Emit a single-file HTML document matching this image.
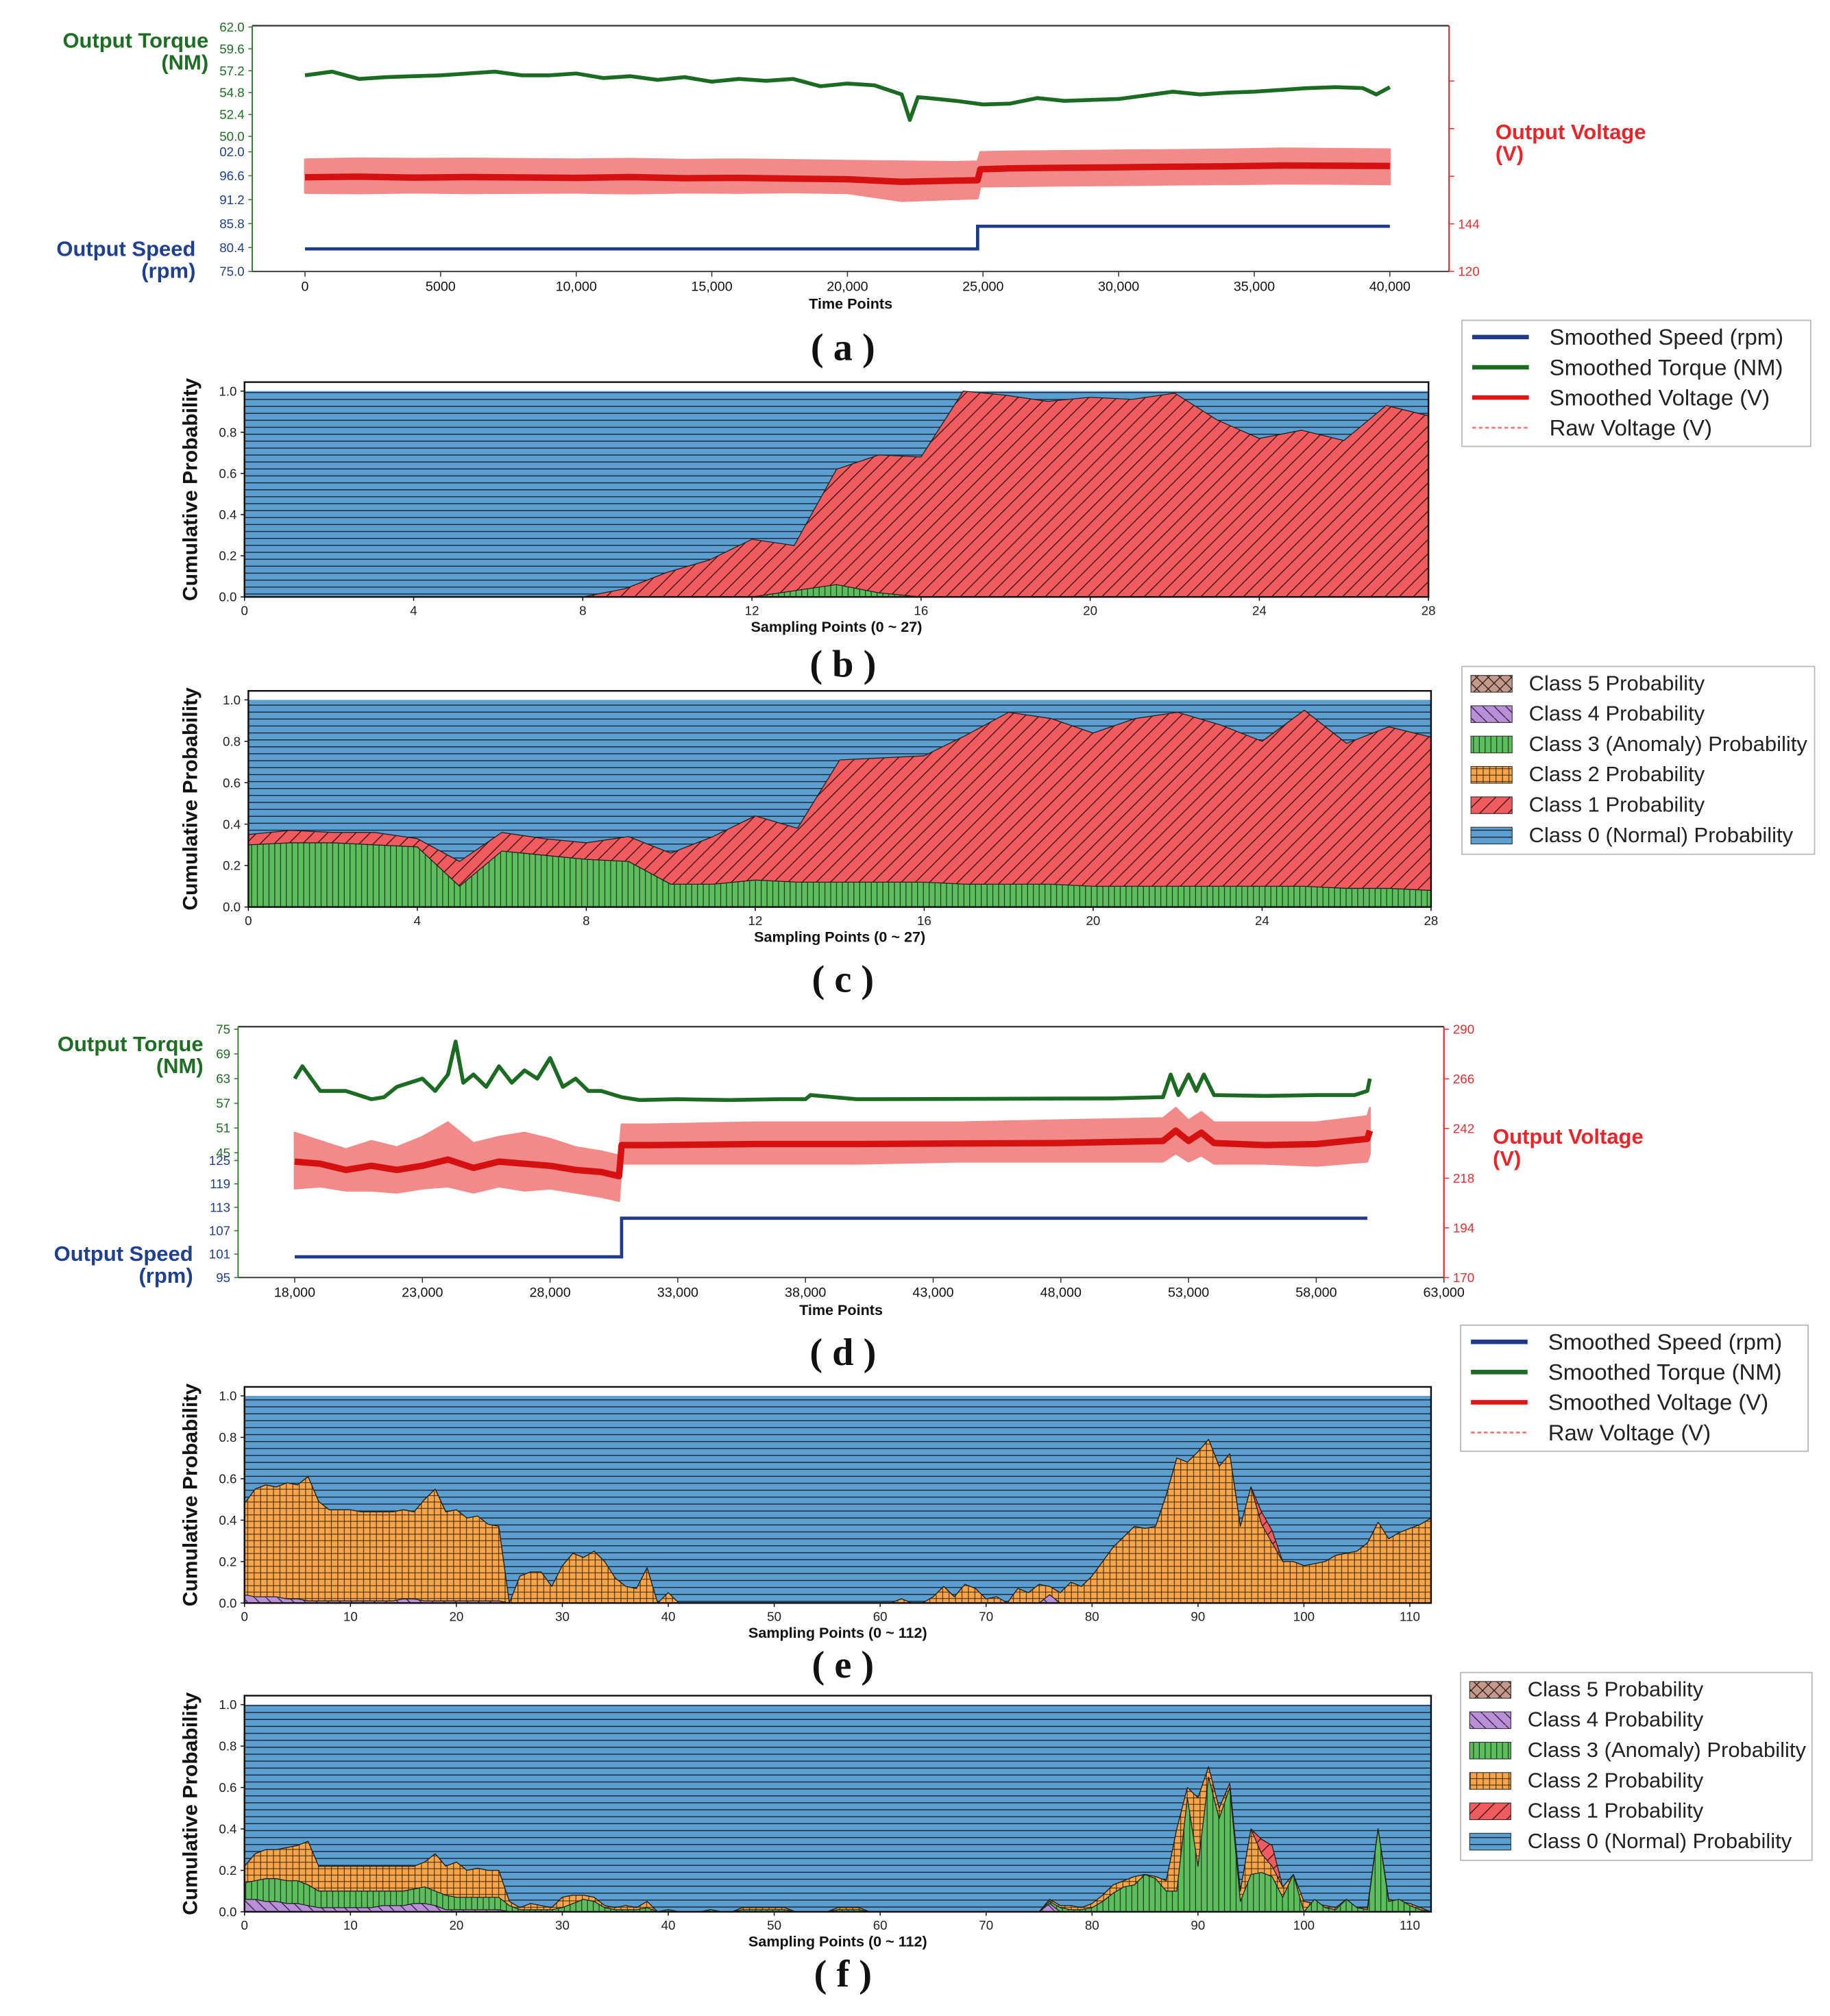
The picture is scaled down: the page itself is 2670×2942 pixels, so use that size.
<!DOCTYPE html>
<html><head><meta charset="utf-8">
<style>
html,body{margin:0;padding:0;background:#fff;}
svg{display:block;font-family:"Liberation Sans",sans-serif;}
</style></head>
<body>
<svg id="fig" width="2670" height="2942" viewBox="0 0 1422 1567" preserveAspectRatio="none" xmlns="http://www.w3.org/2000/svg">
<defs>
<pattern id="pBlue" patternUnits="userSpaceOnUse" width="10" height="5.4"><rect width="10" height="5.4" fill="#5b9fd0"/><line x1="0" y1="2.7" x2="10" y2="2.7" stroke="#1b2b3b" stroke-width="0.8"/></pattern>
<pattern id="pRed" patternUnits="userSpaceOnUse" width="11" height="11"><rect width="11" height="11" fill="#ef5b5e"/><path d="M-1,12 L12,-1 M-1,1 L1,-1 M10,12 L12,10" stroke="#3a1010" stroke-width="0.7"/></pattern>
<pattern id="pGreen" patternUnits="userSpaceOnUse" width="4.5" height="10"><rect width="4.5" height="10" fill="#5cbd5c"/><line x1="2" y1="0" x2="2" y2="10" stroke="#153015" stroke-width="0.6"/></pattern>
<pattern id="pOrange" patternUnits="userSpaceOnUse" width="5" height="5"><rect width="5" height="5" fill="#f6a54a"/><path d="M2.5,0 V5 M0,2.5 H5" stroke="#3b2500" stroke-width="0.55"/></pattern>
<pattern id="pPurple" patternUnits="userSpaceOnUse" width="9" height="9"><rect width="9" height="9" fill="#b98fd8"/><path d="M-1,-1 L10,10" stroke="#2a1a3a" stroke-width="0.7"/></pattern>
<pattern id="pBrown" patternUnits="userSpaceOnUse" width="9" height="9"><rect width="9" height="9" fill="#c49a8a"/><path d="M0,0 L9,9 M9,0 L0,9" stroke="#2a1a1a" stroke-width="0.7"/></pattern>
</defs>
<g id="root"></g>
</svg>
<script>
// ===== Panel (a) data =====
const aTorqueT=[0,1000,2000,3000,4000,5000,6000,7000,8000,9000,10000,11000,12000,13000,14000,15000,16000,17000,18000,19000,20000,21000,22000,22300,22600,23000,24000,25000,26000,27000,28000,29000,30000,31000,32000,33000,34000,35000,36000,37000,38000,39000,39500,40000];
const aTorqueV=[56.7,57.1,56.3,56.5,56.6,56.7,56.9,57.1,56.7,56.7,56.9,56.4,56.6,56.2,56.5,56.0,56.3,56.1,56.3,55.5,55.8,55.6,54.6,51.8,54.3,54.2,53.9,53.5,53.6,54.2,53.9,54.0,54.1,54.5,54.9,54.6,54.8,54.9,55.1,55.3,55.4,55.3,54.6,55.4];
const aVoltT=[0,2000,4000,6000,8000,10000,12000,14000,16000,18000,20000,22000,24000,24800,24900,26000,28000,30000,32000,34000,36000,38000,40000];
const aVoltSmooth=[167.5,167.8,167.3,167.6,167.4,167.2,167.6,167.0,167.2,166.8,166.5,165.2,165.8,166.0,171.5,172.0,172.3,172.5,172.8,173.0,173.4,173.3,173.2];
const aVoltUpper=[176.5,177,176.8,176.9,176.7,176.5,176.8,176.3,176.5,176.2,175.8,175.5,175.2,175.5,180.2,180.5,180.7,181,181.2,181.5,182,181.8,181.6];
const aVoltLower=[159.6,159.4,159.8,159.5,159.6,159.7,159.3,159.8,159.6,159.9,159.5,155.5,156.5,156.8,162.8,163,163.3,163.5,163.8,164,164.3,164.2,164];
const aSpeedT=[0,24800,24800,40000];
const aSpeedV=[80.1,80.1,85.2,85.2];
const aXTicks=[0,5000,10000,15000,20000,25000,30000,35000,40000];
const aXLabels=["0","5000","10,000","15,000","20,000","25,000","30,000","35,000","40,000"];
const aTorqueTicks=["62.0","59.6","57.2","54.8","52.4","50.0"];
const aSpeedTicks=["02.0","96.6","91.2","85.8","80.4","75.0"];

// ===== Panel (d) data =====
const dTorqueT=[18000,18300,19000,20000,21000,21500,22000,23000,23500,24000,24300,24600,25000,25500,26000,26500,27000,27500,28000,28500,29000,29500,30000,30800,31500,33000,35000,37000,38000,38200,40000,45000,50000,52000,52300,52600,53000,53300,53600,54000,56000,58000,59500,60000,60100];
const dTorqueV=[63,66,60,60,58,58.5,61,63,60,64,72,62,64,61,66,62,65,63,68,61,63,60,60,58.5,57.8,58,57.8,58,58,59,58,58.1,58.2,58.5,64,59,64,60,64,59,58.8,59,59,60,63];
const dVoltT=[18000,19000,20000,21000,22000,23000,24000,25000,26000,27000,28000,29000,30000,30700,30800,32000,36000,40000,44000,48000,52000,52500,53000,53500,54000,56000,58000,60000,60100];
const dVoltSmooth=[226,225,222,224,222,224,227,223,226,225,224,222,221,219,234,234,234.5,234.5,234.8,235,236,241,236,240,235,234,234.5,237,241];
const dVoltUpper=[240,236,232,236,233,238,245,235,238,240,237,233,231,229,244,244,245,245,245,246,247,252,246,250,245,245,245,248,252];
const dVoltLower=[213,214,212,212,211,213,214,211,214,212,213,211,209,207,225,225,225,225,226,226,226,230,226,229,225,225,224,226,230];
const dSpeedT=[18000,30800,30800,60000];
const dSpeedV=[100.3,100.3,110.2,110.2];
const dXTicks=[18000,23000,28000,33000,38000,43000,48000,53000,58000,63000];
const dXLabels=["18,000","23,000","28,000","33,000","38,000","43,000","48,000","53,000","58,000","63,000"];
const dTorqueTicks=["75","69","63","57","51","45"];
const dSpeedTicks=["125","119","113","107","101","95"];
const dVoltTicks=["290","266","242","218","194","170"];

// ===== Panel (b) stacked tops (cumulative) =====
const bTop1=[0,0,0,0,0,0,0,0,0,0.04,0.12,0.18,0.28,0.25,0.62,0.69,0.68,1.0,0.98,0.95,0.97,0.96,0.99,0.86,0.77,0.81,0.76,0.93,0.88];
const bTop3=[0,0,0,0,0,0,0,0,0,0,0,0,0,0.03,0.06,0.02,0,0,0,0,0,0,0,0,0,0,0,0,0];
// ===== Panel (c) =====
const cTop1=[0.35,0.37,0.36,0.36,0.33,0.22,0.36,0.33,0.31,0.34,0.26,0.34,0.44,0.38,0.71,0.72,0.73,0.83,0.94,0.91,0.84,0.91,0.94,0.88,0.80,0.95,0.79,0.87,0.82];
const cTop3=[0.30,0.31,0.31,0.30,0.29,0.10,0.27,0.25,0.23,0.22,0.11,0.11,0.13,0.12,0.12,0.12,0.12,0.11,0.11,0.11,0.10,0.10,0.10,0.10,0.10,0.10,0.09,0.09,0.08];
// ===== Panel (e) =====
const eTop1=[0.48,0.55,0.57,0.56,0.58,0.57,0.61,0.49,0.45,0.45,0.45,0.44,0.44,0.44,0.44,0.45,0.44,0.50,0.55,0.44,0.45,0.41,0.42,0.38,0.37,0.0,0.13,0.15,0.15,0.08,0.18,0.24,0.22,0.25,0.20,0.12,0.08,0.07,0.17,0.0,0.05,0,0,0,0,0,0,0,0,0,0,0,0,0,0,0,0,0,0,0,0,0,0.02,0,0,0.03,0.08,0.03,0.09,0.07,0.02,0.03,0.0,0.07,0.05,0.09,0.08,0.05,0.10,0.08,0.13,0.20,0.27,0.32,0.37,0.36,0.37,0.52,0.70,0.68,0.73,0.79,0.66,0.72,0.37,0.56,0.44,0.35,0.20,0.20,0.18,0.19,0.20,0.23,0.24,0.25,0.29,0.39,0.31,0.34,0.36,0.38,0.41];
const eTop2=[0.48,0.55,0.57,0.56,0.58,0.57,0.61,0.49,0.45,0.45,0.45,0.44,0.44,0.44,0.44,0.45,0.44,0.50,0.55,0.44,0.45,0.41,0.42,0.38,0.37,0.0,0.13,0.15,0.15,0.08,0.18,0.24,0.22,0.25,0.20,0.12,0.08,0.07,0.17,0.0,0.05,0,0,0,0,0,0,0,0,0,0,0,0,0,0,0,0,0,0,0,0,0,0.02,0,0,0.03,0.08,0.03,0.09,0.07,0.02,0.03,0.0,0.07,0.05,0.09,0.08,0.05,0.10,0.08,0.13,0.20,0.27,0.32,0.37,0.36,0.37,0.52,0.70,0.68,0.73,0.79,0.66,0.72,0.37,0.56,0.38,0.29,0.20,0.20,0.18,0.19,0.20,0.23,0.24,0.25,0.29,0.39,0.31,0.34,0.36,0.38,0.41];
const eTop4=[0.04,0.03,0.03,0.03,0.02,0.02,0.01,0.01,0.01,0.01,0.01,0.01,0.01,0.01,0.01,0.02,0.02,0.01,0.01,0.01,0.01,0.01,0.01,0.01,0.01,0,0,0,0,0,0,0,0,0,0,0,0,0,0,0,0,0,0,0,0,0,0,0,0,0,0,0,0,0,0,0,0,0,0,0,0,0,0,0,0,0,0,0,0,0,0,0,0,0,0,0,0.04,0,0,0,0,0,0,0,0,0,0,0,0,0,0,0,0,0,0,0,0,0,0,0,0,0,0,0,0,0,0,0,0,0,0,0,0];
// ===== Panel (f) =====
const fTop1=[0.22,0.28,0.30,0.30,0.31,0.32,0.34,0.22,0.22,0.22,0.22,0.22,0.22,0.22,0.22,0.22,0.22,0.24,0.28,0.22,0.24,0.20,0.21,0.20,0.20,0.05,0.02,0.04,0.03,0.02,0.07,0.08,0.08,0.07,0.03,0.02,0.03,0.02,0.05,0,0.01,0,0,0,0.01,0,0,0.02,0.02,0.02,0.02,0.02,0,0,0,0,0.02,0.02,0.02,0,0,0,0,0,0,0,0,0,0,0,0,0,0,0,0,0,0.06,0.03,0.03,0.02,0.04,0.08,0.13,0.15,0.17,0.18,0.17,0.15,0.40,0.60,0.55,0.70,0.50,0.62,0.10,0.40,0.35,0.32,0.12,0.18,0.05,0.04,0.03,0.02,0.06,0.02,0.02,0.40,0.06,0.05,0.04,0.02,0];
const fTop2=[0.22,0.28,0.30,0.30,0.31,0.32,0.34,0.22,0.22,0.22,0.22,0.22,0.22,0.22,0.22,0.22,0.22,0.24,0.28,0.22,0.24,0.20,0.21,0.20,0.20,0.05,0.02,0.04,0.03,0.02,0.07,0.08,0.08,0.07,0.03,0.02,0.03,0.02,0.05,0,0.01,0,0,0,0.01,0,0,0.02,0.02,0.02,0.02,0.02,0,0,0,0,0.02,0.02,0.02,0,0,0,0,0,0,0,0,0,0,0,0,0,0,0,0,0,0.06,0.03,0.03,0.02,0.04,0.08,0.13,0.15,0.17,0.18,0.17,0.15,0.40,0.60,0.55,0.70,0.50,0.62,0.10,0.40,0.28,0.22,0.12,0.18,0.05,0.04,0.03,0.02,0.06,0.02,0.02,0.40,0.06,0.05,0.04,0.02,0];
const fTop3=[0.14,0.15,0.16,0.16,0.15,0.15,0.13,0.10,0.10,0.10,0.10,0.10,0.10,0.10,0.10,0.10,0.11,0.12,0.10,0.08,0.07,0.07,0.07,0.07,0.07,0.03,0.01,0.01,0.01,0.01,0.02,0.04,0.06,0.05,0.02,0.01,0.01,0.01,0.02,0,0.01,0,0,0,0.01,0,0,0.01,0.01,0.01,0.01,0.01,0,0,0,0,0.01,0.01,0.01,0,0,0,0,0,0,0,0,0,0,0,0,0,0,0,0,0,0.05,0.02,0.01,0.01,0.02,0.05,0.09,0.12,0.13,0.18,0.16,0.10,0.10,0.55,0.22,0.65,0.45,0.60,0.05,0.18,0.19,0.17,0.07,0.18,0,0.06,0.02,0.01,0.06,0.02,0.01,0.40,0.05,0.06,0.03,0.01,0];
const fTop4=[0.06,0.06,0.05,0.05,0.04,0.04,0.03,0.02,0.02,0.02,0.02,0.02,0.02,0.03,0.03,0.03,0.04,0.04,0.03,0.01,0.01,0.01,0.01,0.01,0.01,0,0,0,0,0,0,0,0,0,0,0,0,0,0,0,0,0,0,0,0,0,0,0,0,0,0,0,0,0,0,0,0,0,0,0,0,0,0,0,0,0,0,0,0,0,0,0,0,0,0,0,0.04,0,0,0,0,0,0,0,0,0,0,0,0,0,0,0,0,0,0,0,0,0,0,0,0,0,0,0,0,0,0,0,0,0,0,0,0];
const probTicks=["0.0","0.2","0.4","0.6","0.8","1.0"];

const NS="http://www.w3.org/2000/svg";
const root=document.getElementById('root');
function mk(tag,attrs,parent,text){const e=document.createElementNS(NS,tag);for(const k in attrs)e.setAttribute(k,attrs[k]);if(text!==undefined)e.textContent=text;(parent||root).appendChild(e);return e;}

// ---------- time-series panel ----------
function tsPanel(p){
  const g=mk('g',{});
  
  
  const xs=t=>p.px0+(t-p.t0)/(p.t1-p.t0)*(p.px1-p.px0);
  const yT=v=>p.tY0+(p.tMax-v)/(p.tMax-p.tMin)*(p.tY1-p.tY0);
  const yS=v=>p.sY0+(p.sMax-v)/(p.sMax-p.sMin)*(p.sY1-p.sY0);
  const yV=v=>p.vY0+(p.vMax-v)/(p.vMax-p.vMin)*(p.vY1-p.vY0);
  const top=mk('line',{x1:p.L,y1:p.T,x2:p.R,y2:p.T,stroke:'#333','stroke-width':1.2},g);
  
  const bot=mk('line',{x1:p.L,y1:p.B,x2:p.R,y2:p.B,stroke:'#333','stroke-width':1},g);
  
  const ls=mk('line',{x1:p.L,y1:p.T,x2:p.L,y2:p.B,stroke:'#2a7a2a','stroke-width':1},g);
  
  const rs=mk('line',{x1:p.R,y1:p.T,x2:p.R,y2:p.B,stroke:'#e03030','stroke-width':1.2},g);
  
  p.xTicks.forEach((t,i)=>{
    mk('line',{x1:xs(t),y1:p.B,x2:xs(t),y2:p.B+4,stroke:'#333','stroke-width':0.8},g);
    const tx=mk('text',{x:xs(t),y:p.B+15,'font-size':10.5,'text-anchor':'middle',fill:'#111'},g,p.xLabels[i]);
    
  });
  const xl=mk('text',{x:(p.L+p.R)/2,y:p.B+29,'font-size':11.5,'font-weight':'bold','text-anchor':'middle',fill:'#111'},g,'Time Points');
  
  p.torqueTicks.forEach((s,i)=>{
    const v=p.tMax-i*(p.tMax-p.tMin)/(p.torqueTicks.length-1);
    mk('line',{x1:p.L-3,y1:yT(v),x2:p.L,y2:yT(v),stroke:'#2a7a2a','stroke-width':0.8},g);
    const tx=mk('text',{x:p.L-6,y:yT(v)+3.5,'font-size':10,'text-anchor':'end',fill:'#1d6e23'},g,s);
    
  });
  p.speedTicks.forEach((s,i)=>{
    const v=p.sMax-i*(p.sMax-p.sMin)/(p.speedTicks.length-1);
    mk('line',{x1:p.L-3,y1:yS(v),x2:p.L,y2:yS(v),stroke:'#2a7a2a','stroke-width':0.8},g);
    const tx=mk('text',{x:p.L-6,y:yS(v)+3.5,'font-size':10,'text-anchor':'end',fill:'#1f3f8f'},g,s);
    
  });
  p.voltTickVals.forEach((v,i)=>{
    mk('line',{x1:p.R,y1:yV(v),x2:p.R+4,y2:yV(v),stroke:'#e03030','stroke-width':0.8},g);
    if(p.voltTickLabels[i]){
      const tx=mk('text',{x:p.R+7,y:yV(v)+3.5,'font-size':10,fill:'#e03030'},g,p.voltTickLabels[i]);
      
    }
  });
  const at=mk('text',{x:p.torqueTitleX,y:p.torqueTitleY,'font-size':16.5,'font-weight':'bold','text-anchor':'end',fill:'#1d6e23'},g);
  
  mk('tspan',{x:p.torqueTitleX,dy:0},at,'Output Torque');
  mk('tspan',{x:p.torqueTitleX,dy:17},at,'(NM)');
  const as=mk('text',{x:p.speedTitleX,y:p.speedTitleY,'font-size':16.5,'font-weight':'bold','text-anchor':'end',fill:'#1f3f8f'},g);
  
  mk('tspan',{x:p.speedTitleX,dy:0},as,'Output Speed');
  mk('tspan',{x:p.speedTitleX,dy:17},as,'(rpm)');
  const av=mk('text',{x:p.voltTitleX,y:p.voltTitleY,'font-size':16.5,'font-weight':'bold',fill:'#e8262a'},g);
  
  mk('tspan',{x:p.voltTitleX,dy:0},av,'Output Voltage');
  mk('tspan',{x:p.voltTitleX,dy:17},av,'(V)');
  let pts=p.vT.map((t,i)=>xs(t)+','+yV(p.vUp[i]));
  for(let i=p.vT.length-1;i>=0;i--)pts.push(xs(p.vT[i])+','+yV(p.vLo[i]));
  const band=mk('polygon',{points:pts.join(' '),fill:'#f28a8a',stroke:'#f28a8a','stroke-width':1.5,'stroke-linejoin':'round'},g);
  
  const vl=mk('polyline',{points:p.vT.map((t,i)=>xs(t)+','+yV(p.vS[i])).join(' '),fill:'none',stroke:'#d41010','stroke-width':5,'stroke-linejoin':'round'},g);
  
  const tl=mk('polyline',{points:p.tT.map((t,i)=>xs(t)+','+yT(p.tV[i])).join(' '),fill:'none',stroke:'#1b6b23','stroke-width':3,'stroke-linejoin':'round'},g);
  
  const sl=mk('polyline',{points:p.sT.map((t,i)=>xs(t)+','+yS(p.sV[i])).join(' '),fill:'none',stroke:'#1f3a8a','stroke-width':2.5},g);
  
}

tsPanel({name:'panel-a-timeseries',L:196,R:1126,T:20,B:211,px0:237,px1:1080,t0:0,t1:40000,
  tMax:62,tMin:50,tY0:21,tY1:106,sMax:102,sMin:75,sY0:118,sY1:211,vMax:240,vMin:120,vY0:26,vY1:211,
  xTicks:aXTicks,xLabels:aXLabels,torqueTicks:aTorqueTicks,speedTicks:aSpeedTicks,
  voltTickVals:[120,144,168,192,216],voltTickLabels:['120','144','','',''],
  torqueTitleX:162,torqueTitleY:37,speedTitleX:152,speedTitleY:199,voltTitleX:1162,voltTitleY:108,
  tT:aTorqueT,tV:aTorqueV,vT:aVoltT,vS:aVoltSmooth,vUp:aVoltUpper,vLo:aVoltLower,sT:aSpeedT,sV:aSpeedV});

tsPanel({name:'panel-d-timeseries',L:185,R:1122,T:798,B:993,px0:229,px1:1122,t0:18000,t1:63000,
  tMax:75,tMin:45,tY0:800,tY1:896,sMax:125,sMin:95,sY0:902,sY1:993,vMax:290,vMin:170,vY0:800,vY1:993,
  xTicks:dXTicks,xLabels:dXLabels,torqueTicks:dTorqueTicks,speedTicks:dSpeedTicks,
  voltTickVals:[290,266,242,218,194,170],voltTickLabels:dVoltTicks,
  torqueTitleX:158,torqueTitleY:817,speedTitleX:150,speedTitleY:980,voltTitleX:1160,voltTitleY:889,
  tT:dTorqueT,tV:dTorqueV,vT:dVoltT,vS:dVoltSmooth,vUp:dVoltUpper,vLo:dVoltLower,sT:dSpeedT,sV:dSpeedV});

function stackPanel(p){
  const g=mk('g',{});
  
  
  const n=p.layers[0].top.length;
  const xs=i=>p.L+i/p.xMax*(p.R-p.L);
  const ys=v=>p.y0+(p.y1-p.y0)*v;
  const bl=mk('rect',{x:p.L,y:ys(1),width:p.R-p.L,height:ys(0)-ys(1),fill:'url(#pBlue)'},g);
  
  p.layers.forEach(ly=>{
    let pts=[xs(0)+','+ys(0)];
    ly.top.forEach((v,i)=>pts.push(xs(i)+','+ys(v)));
    pts.push(xs(n-1)+','+ys(0));
    const a=mk('polygon',{points:pts.join(' '),fill:ly.fill,stroke:'#222','stroke-width':0.7,'stroke-linejoin':'round'},g);
    
  });
  mk('rect',{x:p.L,y:p.T,width:p.R-p.L,height:ys(0)-p.T,fill:'none',stroke:'#111','stroke-width':1.3},g);
  probTicks.forEach((s,i)=>{
    const v=i*0.2;
    mk('line',{x1:p.L-3,y1:ys(v),x2:p.L,y2:ys(v),stroke:'#111','stroke-width':0.8},g);
    const t=mk('text',{x:p.L-6,y:ys(v)+3.5,'font-size':10,'text-anchor':'end',fill:'#222'},g,s);
    
  });
  p.xTicks.forEach(v=>{
    mk('line',{x1:xs(v),y1:ys(0),x2:xs(v),y2:ys(0)+3,stroke:'#111','stroke-width':0.8},g);
    const t=mk('text',{x:xs(v),y:ys(0)+14,'font-size':10,'text-anchor':'middle',fill:'#222'},g,String(v));
    
  });
  const xl=mk('text',{x:(p.L+p.R)/2,y:ys(0)+27,'font-size':11.5,'font-weight':'bold','text-anchor':'middle',fill:'#111'},g,p.xTitle);
  
  const cy=(p.T+ys(0))/2;
  const yl=mk('text',{x:0,y:0,'font-size':16,'font-weight':'bold','text-anchor':'middle',fill:'#111',transform:'translate(153,'+cy+') rotate(-90)'},g,'Cumulative Probability');
  
}
const t28=[0,4,8,12,16,20,24,28];
const t112=[0,10,20,30,40,50,60,70,80,90,100,110];
stackPanel({name:'panel-b-probability',L:190,R:1110,T:297,y0:464,y1:304,xMax:28,xTicks:t28,xTitle:'Sampling Points (0 ~ 27)',
  layers:[{top:bTop1,fill:'url(#pRed)',name:'class1-area'},{top:bTop3,fill:'url(#pGreen)',name:'class3-area'}]});
stackPanel({name:'panel-c-probability',L:193,R:1112,T:537,y0:705,y1:544,xMax:28,xTicks:t28,xTitle:'Sampling Points (0 ~ 27)',
  layers:[{top:cTop1,fill:'url(#pRed)',name:'class1-area'},{top:cTop3,fill:'url(#pGreen)',name:'class3-area'}]});
stackPanel({name:'panel-e-probability',L:190,R:1112,T:1078,y0:1246,y1:1085,xMax:112,xTicks:t112,xTitle:'Sampling Points (0 ~ 112)',
  layers:[{top:eTop1,fill:'url(#pRed)',name:'class1-area'},{top:eTop2,fill:'url(#pOrange)',name:'class2-area'},{top:eTop4,fill:'url(#pPurple)',name:'class4-area'}]});
stackPanel({name:'panel-f-probability',L:190,R:1112,T:1318,y0:1486,y1:1325,xMax:112,xTicks:t112,xTitle:'Sampling Points (0 ~ 112)',
  layers:[{top:fTop1,fill:'url(#pRed)',name:'class1-area'},{top:fTop2,fill:'url(#pOrange)',name:'class2-area'},{top:fTop3,fill:'url(#pGreen)',name:'class3-area'},{top:fTop4,fill:'url(#pPurple)',name:'class4-area'}]});

[['( a )',280],['( b )',526],['( c )',771],['( d )',1061],['( e )',1304],['( f )',1544]].forEach(c=>{
  const t=mk('text',{x:655,y:c[1],'font-size':30,'font-weight':'bold','text-anchor':'middle','font-family':'"Liberation Serif",serif',fill:'#111'},root,c[0]);
  
});

const lineLegend=['Smoothed Speed (rpm)','Smoothed Torque (NM)','Smoothed Voltage (V)','Raw Voltage (V)'];
const lineColors=['#1f3a8a','#1b6b23','#e01515','#f08080'];
function lineLegendBox(x,y,w){
  const g=mk('g',{});
  
  
  mk('rect',{x:x,y:y,width:w,height:98,fill:'#fff',stroke:'#bbb','stroke-width':1},g);
  lineLegend.forEach((s,i)=>{
    const yy=y+13+i*23.5;
    if(i===3) mk('line',{x1:x+8,y1:yy,x2:x+52,y2:yy,stroke:lineColors[i],'stroke-width':1.5,'stroke-dasharray':'3,2'},g);
    else mk('line',{x1:x+8,y1:yy,x2:x+52,y2:yy,stroke:lineColors[i],'stroke-width':3.5},g);
    const t=mk('text',{x:x+68,y:yy+6,'font-size':17.5,fill:'#222'},g,s);
    
  });
}
lineLegendBox(1136,249,271);
lineLegendBox(1135,1030,270);
const clsLegend=['Class 5 Probability','Class 4 Probability','Class 3 (Anomaly) Probability','Class 2 Probability','Class 1 Probability','Class 0 (Normal) Probability'];
const clsFill=['url(#pBrown)','url(#pPurple)','url(#pGreen)','url(#pOrange)','url(#pRed)','url(#pBlue)'];
function clsLegendBox(x,y,w){
  const g=mk('g',{});
  
  
  mk('rect',{x:x,y:y,width:w,height:146,fill:'#fff',stroke:'#bbb','stroke-width':1},g);
  clsLegend.forEach((s,i)=>{
    const yy=y+13+i*23.6;
    mk('rect',{x:x+7,y:yy-6,width:32,height:13,fill:clsFill[i],stroke:'#333','stroke-width':0.6},g);
    const t=mk('text',{x:x+52,y:yy+5.5,'font-size':16.5,fill:'#222'},g,s);
    
  });
}
clsLegendBox(1136,518,274);
clsLegendBox(1135,1300,273);
</script>
</body></html>
